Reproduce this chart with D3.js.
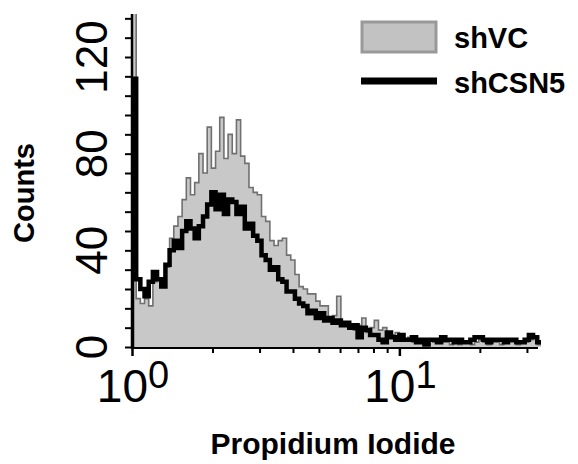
<!DOCTYPE html>
<html>
<head>
<meta charset="utf-8">
<script src="https://cdn.jsdelivr.net/npm/d3@7"></script>
<style>
  html, body { margin: 0; padding: 0; background: #fff; }
  svg { display: block; }
</style>
</head>
<body>
<svg id="chart" width="578" height="464"></svg>
<script>
// Propidium iodide histograms, 64 channels per decade starting at 10^0
const seriesNames = ["shVC", "shCSN5"];
const binsPerDecade = 64;

const shVC = [
  150, 20, 18, 20, 17, 27, 28, 27, 33, 45,
  50, 54, 61, 70, 63, 68, 80, 72, 91, 74,
  81, 95, 78, 88, 80, 94, 79, 76, 66, 64,
  63, 54, 52, 44, 42, 44, 45, 38, 36, 30,
  25, 24, 22, 22, 19, 17, 17, 12, 13, 21,
  10, 9, 8, 7, 9, 12, 6, 8, 11, 7,
  8, 6, 5, 6, 4, 3, 4, 2, 3, 2,
  2, 3, 2, 3, 2, 2, 1, 2, 1, 2,
  2, 1, 2, 3, 2, 1, 2, 2, 1, 2,
  2, 2, 1, 2, 2, 3, 4, 1
];

const shCSN5 = [
  111, 28, 24, 21, 27, 31, 28, 25, 34, 40,
  44, 41, 48, 52, 49, 45, 50, 54, 59, 64,
  57, 63, 55, 61, 60, 55, 58, 49, 51, 46,
  44, 38, 36, 32, 33, 28, 27, 23, 23, 20,
  18, 17, 14, 15, 12, 14, 11, 12, 10, 11,
  9, 10, 8, 9, 4, 8, 7, 5, 5, 3,
  2, 6, 4, 3, 5, 3, 3, 4, 2, 3,
  1, 3, 3, 2, 4, 3, 3, 2, 3, 2,
  2, 3, 4, 4, 3, 2, 3, 3, 3, 2,
  3, 3, 2, 2, 3, 5, 4, 2
];

const yTickLabels = [0, 40, 80, 120];
const yMinorStep = 8;
const xDecadeLabels = [{ base: "10", exp: "0", value: 1 }, { base: "10", exp: "1", value: 10 }];
const xMinorTicks = [2, 3, 4, 5, 6, 7, 8, 9, 20, 30];
const xLabel = "Propidium Iodide";
const yLabel = "Counts";

const svg = d3.select("#chart");
const plot = { left: 132, right: 538, top: 14, bottom: 347 };

const x = d3.scaleLog().domain([1, 33]).range([plot.left, plot.right]);
const y = d3.scaleLinear().domain([0, 120]).range([plot.bottom, 57]);
const yTop = y.invert(plot.top);

svg.append("rect").attr("width", 578).attr("height", 464).attr("fill", "#fff");

svg.append("clipPath").attr("id", "plotClip")
  .append("rect")
  .attr("x", plot.left).attr("y", plot.top)
  .attr("width", plot.right - plot.left + 3)
  .attr("height", plot.bottom - plot.top);

// channel edges -> step points
function stepPoints(values) {
  const pts = values.map((v, i) => [Math.pow(10, i / binsPerDecade), v]);
  pts.push([Math.pow(10, values.length / binsPerDecade), values[values.length - 1]]);
  return pts;
}

const g = svg.append("g").attr("clip-path", "url(#plotClip)");

const area = d3.area()
  .x(d => x(d[0]))
  .y0(y(0))
  .y1(d => y(d[1]))
  .curve(d3.curveStepAfter);

const line = d3.line()
  .x(d => x(d[0]))
  .y(d => y(d[1]))
  .curve(d3.curveStepAfter);

const vcPts = stepPoints(shVC);
g.append("path").datum(vcPts)
  .attr("d", area)
  .attr("fill", "#c8c8c8");
g.append("path").datum(vcPts)
  .attr("d", line)
  .attr("fill", "none")
  .attr("stroke", "#707070")
  .attr("stroke-width", 1.6);

const csnPts = [[1, 0]].concat(stepPoints(shCSN5));
g.append("path").datum(csnPts)
  .attr("d", line)
  .attr("fill", "none")
  .attr("stroke", "#000")
  .attr("stroke-width", 4.5)
  .attr("stroke-linejoin", "miter");

// Y axis
const yAxis = d3.axisLeft(y)
  .tickValues(d3.range(0, yTop, yMinorStep))
  .tickSize(7)
  .tickFormat("");
const yG = svg.append("g").attr("transform", `translate(${plot.left},0)`).call(yAxis);
yG.select(".domain").remove();
yG.selectAll(".tick line").attr("stroke", "#000").attr("stroke-width", 2);
svg.append("line")
  .attr("x1", plot.left).attr("x2", plot.left)
  .attr("y1", plot.top).attr("y2", plot.bottom + 2)
  .attr("stroke", "#000").attr("stroke-width", 2.5);

yTickLabels.forEach(v => {
  svg.append("text")
    .attr("transform", `translate(107,${y(v)}) rotate(-90)`)
    .attr("text-anchor", "middle")
    .attr("font-family", "Liberation Sans, Arial, sans-serif")
    .attr("font-size", 44)
    .attr("fill", "#000")
    .text(v);
});

// X axis
const xAxis = d3.axisBottom(x)
  .tickValues(xMinorTicks)
  .tickSize(5)
  .tickFormat("");
const xG = svg.append("g").attr("transform", `translate(0,${plot.bottom + 1})`).call(xAxis);
xG.select(".domain").remove();
xG.selectAll(".tick line").attr("stroke", "#000").attr("stroke-width", 2);

const xMajor = d3.axisBottom(x)
  .tickValues(xDecadeLabels.map(d => d.value))
  .tickSize(8)
  .tickFormat("");
const xM = svg.append("g").attr("transform", `translate(0,${plot.bottom + 1})`).call(xMajor);
xM.select(".domain").remove();
xM.selectAll(".tick line").attr("stroke", "#000").attr("stroke-width", 2.5);

svg.append("line")
  .attr("x1", plot.left - 1).attr("x2", plot.right)
  .attr("y1", plot.bottom + 1).attr("y2", plot.bottom + 1)
  .attr("stroke", "#000").attr("stroke-width", 2);

xDecadeLabels.forEach(d => {
  const t = svg.append("text")
    .attr("x", x(d.value) + 1)
    .attr("y", 402)
    .attr("text-anchor", "middle")
    .attr("font-family", "Liberation Sans, Arial, sans-serif")
    .attr("font-size", 46)
    .attr("fill", "#000");
  t.append("tspan").text(d.base);
  t.append("tspan").attr("dy", -14).attr("font-size", 38).text(d.exp);
});

// Axis titles
svg.append("text")
  .attr("x", 333).attr("y", 454)
  .attr("text-anchor", "middle")
  .attr("font-family", "Liberation Sans, Arial, sans-serif")
  .attr("font-weight", "bold")
  .attr("font-size", 30)
  .attr("fill", "#000")
  .text(xLabel);

svg.append("text")
  .attr("transform", "translate(34,193) rotate(-90)")
  .attr("text-anchor", "middle")
  .attr("font-family", "Liberation Sans, Arial, sans-serif")
  .attr("font-weight", "bold")
  .attr("font-size", 29)
  .attr("fill", "#000")
  .text(yLabel);

// Legend
const legend = svg.append("g");
legend.append("rect")
  .attr("x", 362).attr("y", 22)
  .attr("width", 74).attr("height", 30)
  .attr("fill", "#c2c2c2")
  .attr("stroke", "#999")
  .attr("stroke-width", 3);
legend.append("line")
  .attr("x1", 361).attr("x2", 437)
  .attr("y1", 81).attr("y2", 81)
  .attr("stroke", "#000").attr("stroke-width", 7);
[[seriesNames[0], 48], [seriesNames[1], 93]].forEach(([name, yy]) => {
  legend.append("text")
    .attr("x", 454).attr("y", yy)
    .attr("font-family", "Liberation Sans, Arial, sans-serif")
    .attr("font-weight", "bold")
    .attr("font-size", 29)
    .attr("fill", "#000")
    .text(name);
});
</script>
</body>
</html>
